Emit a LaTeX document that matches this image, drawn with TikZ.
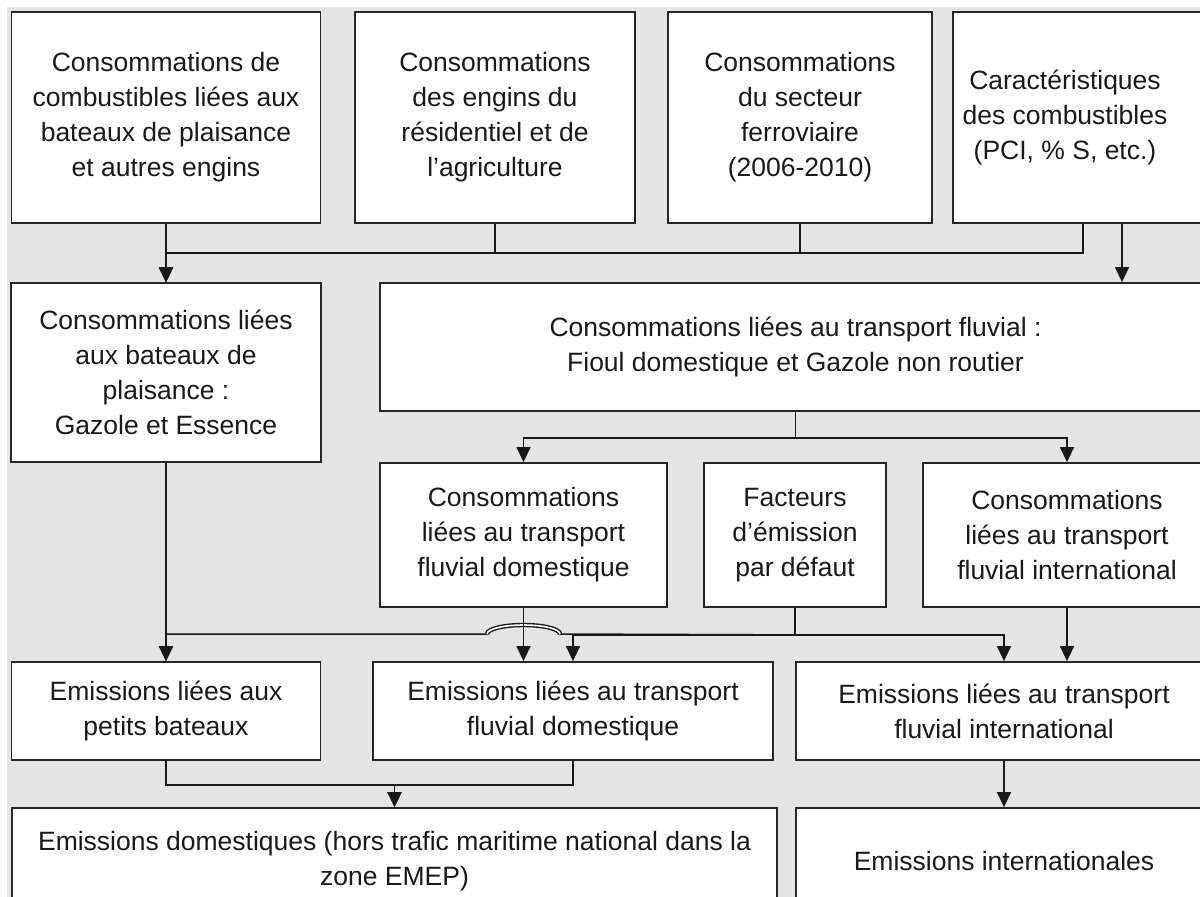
\documentclass[tikz,border=0pt]{standalone}
\usepackage{fontspec}
\setmainfont{Liberation Sans}
\usetikzlibrary{arrows.meta}
\definecolor{fond}{RGB}{228,228,228}

\begin{document}
\begin{tikzpicture}[x=1pt, y=-1pt,
		box/.style={draw=black!85, line width=1.8pt, fill=white, text=black!90, align=center, inner sep=0pt,
			font=\fontsize{26.5pt}{35pt}\selectfont},
		link/.style={draw=black!90, line width=1.5pt, -{Triangle[width=14pt,length=15pt]}}]
				\useasboundingbox (0,0) rectangle (1200,897);
				\fill[fond] (7,7) rectangle (1220,920);
				
				% sources
				\node[box, minimum width=309pt, minimum height=211pt] (0) at (166,117.5) {Consommations de\\combustibles liées aux\\bateaux de plaisance\\et autres engins};
				\node[box, minimum width=280pt, minimum height=211pt] (1) at (495,117.5) {Consommations\\des engins du\\résidentiel et de\\l’agriculture};
				\node[box, minimum width=264pt, minimum height=211pt] (2) at (800,117.5) {Consommations\\du secteur\\ferroviaire\\(2006-2010)};
				\node[box, minimum width=260pt, minimum height=211pt] (3) at (1083,117.5) {\begin{tabular}{@{}c@{\hspace{36pt}}}Caractéristiques\\des combustibles\\(PCI, \% S, etc.)\end{tabular}};
				
				\node[box, minimum width=310pt, minimum height=179pt] (4) at (166,372.5) {Consommations liées\\aux bateaux de\\plaisance :\\Gazole et Essence};
				\node[box, minimum width=831pt, minimum height=128pt] (5) at (795.5,347) {Consommations liées au transport fluvial :\\Fioul domestique et Gazole non routier};
				
				\node[box, minimum width=287pt, minimum height=144pt] (6) at (523.5,535) {Consommations\\liées au transport\\fluvial domestique};
				\node[box, minimum width=182pt, minimum height=144pt] (7) at (795,535) {Facteurs\\d’émission\\par défaut};
				\node[box, minimum width=288pt, minimum height=144pt] (8) at (1067,535) {Consommations\\liées au transport\\fluvial international};
				
				% emissions
				\node[box, minimum width=309pt, minimum height=98pt] (9) at (166,711) {Emissions liées aux\\petits bateaux};
				\node[box, minimum width=400pt, minimum height=98pt] (10) at (573,711) {Emissions liées au transport\\fluvial domestique};
				\node[box, minimum width=416pt, minimum height=98pt] (11) at (1004,711) {Emissions liées au transport\\fluvial international};
				
				\node[box, minimum width=765pt, minimum height=106pt] (12) at (394.5,861) {Emissions domestiques (hors trafic maritime national dans la\\zone EMEP)};
				\node[box, minimum width=416pt, minimum height=106pt] (13) at (1004,861) {Emissions internationales};
				
				\coordinate (hopR) at (560,634);
				\coordinate (hopL) at (487,634);
				
				\draw[link] (0.south) -- (4.north);
				\draw[link] (1.south) -- ++(0,29) -| (4.north);
				\draw[link] (2.south) -- ++(0,29) -| (4.north);
				\draw[link] (3.south) -- ++(0,29) -| (4.north);
				\draw[link] ([xshift=39pt]3.south) -- ([xshift=39pt]3.south |- 5.north);
				
				\draw[link] (5.south) -- ++(0,26) -| (6.north);
				\draw[link] (5.south) -- ++(0,26) -| (8.north);
				
				\draw[link] (4.south) -- (4.south |- 9.north);
				\draw[link] (7.south) -- ++(0,27) -- (hopR) arc[start angle=0, end angle=180, x radius=36.5pt, y radius=9pt] -| (9.north);
				\draw[double=white, double distance=1.6pt, line width=1.4pt, draw=black!90] (hopR) arc[start angle=0, end angle=180, x radius=36.5pt, y radius=9pt];
				\draw[link] (7.south) -- ++(0,27) -| (10.north);
				\draw[link] (7.south) -- ++(0,27) -| (11.north);
				\draw[link] (6.south) -- (6.south |- 10.north);
				\draw[link] (8.south) -- (8.south |- 11.north);
				
				\draw[link] (9.south) -- ++(0,24) -| (12.north);
				\draw[link] (10.south) -- ++(0,24) -| (12.north);
				\draw[link] (11.south) -- (13.north);
			\end{tikzpicture}
\end{document}
